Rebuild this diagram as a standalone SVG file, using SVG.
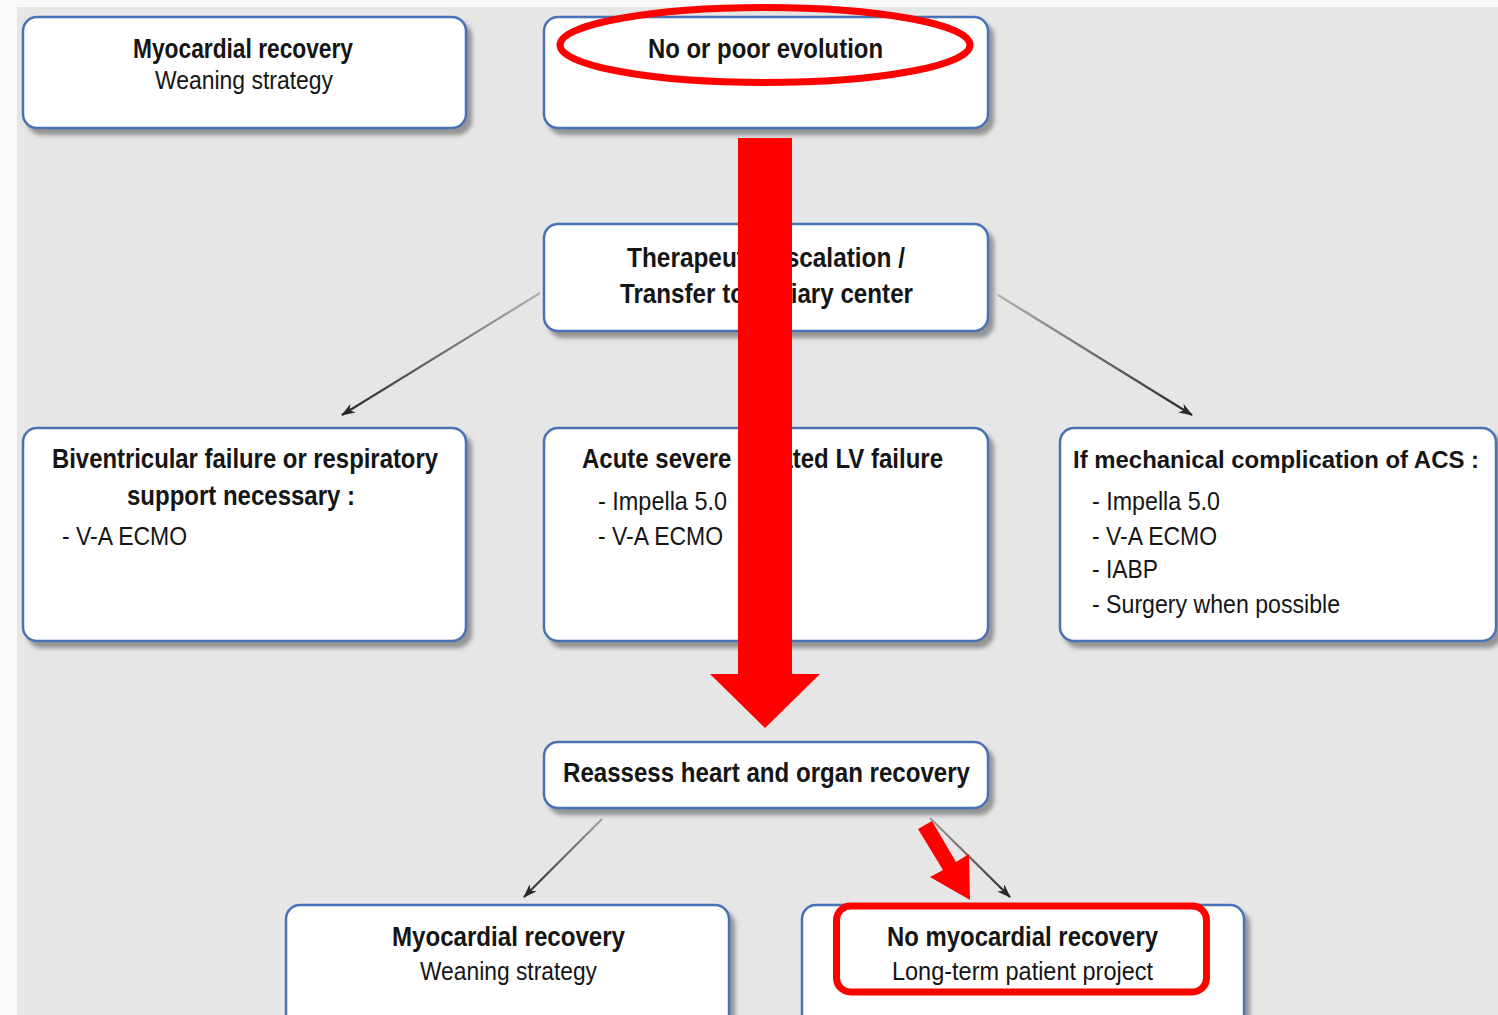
<svg xmlns="http://www.w3.org/2000/svg" width="1498" height="1015" viewBox="0 0 1498 1015">
<style>
.box{fill:#fff;stroke:#4a72b4;stroke-width:2.5;filter:url(#sh)}
.t{font-family:"Liberation Sans",Arial,sans-serif;font-size:27px;fill:#151515}
.b{font-weight:bold}
.r{font-size:26px}
.con{fill:none;stroke-width:2.2}
.red{fill:#ff0000}
.redline{fill:none;stroke:#ff0000;stroke-width:7}
</style>
<defs>
<filter id="sh" x="-5%" y="-10%" width="115%" height="130%">
<feDropShadow dx="5" dy="6" stdDeviation="2" flood-color="#7a7a7a" flood-opacity="0.75"/>
</filter>
<marker id="ah" viewBox="0 0 14 10" refX="13" refY="5" markerWidth="14" markerHeight="10" markerUnits="userSpaceOnUse" orient="auto">
<path d="M0,0 L14,5 L0,10 L4,5 z" fill="#2a2a2a"/>
</marker>
<linearGradient id="g1" gradientUnits="userSpaceOnUse" x1="540" y1="293" x2="342" y2="415"><stop offset="0" stop-color="#b0b0b0"/><stop offset="1" stop-color="#2a2a2a"/></linearGradient>
<linearGradient id="g2" gradientUnits="userSpaceOnUse" x1="998" y1="295" x2="1192" y2="415"><stop offset="0" stop-color="#b0b0b0"/><stop offset="1" stop-color="#2a2a2a"/></linearGradient>
<linearGradient id="g3" gradientUnits="userSpaceOnUse" x1="602" y1="819" x2="524" y2="897"><stop offset="0" stop-color="#a0a0a0"/><stop offset="1" stop-color="#2a2a2a"/></linearGradient>
<linearGradient id="g4" gradientUnits="userSpaceOnUse" x1="930" y1="818" x2="1010" y2="897"><stop offset="0" stop-color="#a0a0a0"/><stop offset="1" stop-color="#2a2a2a"/></linearGradient>
</defs>
<rect x="0" y="0" width="1498" height="1015" fill="#fafafa"/>
<rect x="17" y="7" width="1481" height="1008" fill="#e6e6e6"/>

<g id="connectors">
<line class="con" x1="540" y1="293" x2="342" y2="415" stroke="url(#g1)" marker-end="url(#ah)"/>
<line class="con" x1="998" y1="295" x2="1192" y2="415" stroke="url(#g2)" marker-end="url(#ah)"/>
<line class="con" x1="602" y1="819" x2="524" y2="897" stroke="url(#g3)" marker-end="url(#ah)"/>
<line class="con" x1="930" y1="818" x2="1010" y2="897" stroke="url(#g4)" marker-end="url(#ah)"/>
</g>

<g id="n1">
<rect class="box" x="23" y="17" width="443" height="111" rx="14"/>
<text class="t b" x="133" y="58" textLength="220" lengthAdjust="spacingAndGlyphs">Myocardial recovery</text>
<text class="t r" x="155" y="89" textLength="178" lengthAdjust="spacingAndGlyphs">Weaning strategy</text>
</g>

<g id="n2">
<rect class="box" x="544" y="17" width="444" height="111" rx="14"/>
<text class="t b" x="648" y="58" textLength="235" lengthAdjust="spacingAndGlyphs">No or poor evolution</text>
</g>

<g id="n3">
<rect class="box" x="544" y="224" width="444" height="107" rx="14"/>
<text class="t b" x="627" y="267" textLength="278" lengthAdjust="spacingAndGlyphs">Therapeutic escalation /</text>
<text class="t b" x="620" y="303" textLength="293" lengthAdjust="spacingAndGlyphs">Transfer to tertiary center</text>
</g>

<g id="n4">
<rect class="box" x="23" y="428" width="443" height="213" rx="14"/>
<text class="t b" x="52" y="468" textLength="386" lengthAdjust="spacingAndGlyphs">Biventricular failure or respiratory</text>
<text class="t b" x="127" y="505" textLength="228" lengthAdjust="spacingAndGlyphs">support necessary :</text>
<text class="t r" x="62" y="545" textLength="125" lengthAdjust="spacingAndGlyphs">- V-A ECMO</text>
</g>

<g id="n5">
<rect class="box" x="544" y="428" width="444" height="213" rx="14"/>
<text class="t b" x="582" y="468" textLength="361" lengthAdjust="spacingAndGlyphs">Acute severe isolated LV failure</text>
<text class="t r" x="598" y="510" textLength="129" lengthAdjust="spacingAndGlyphs">- Impella 5.0</text>
<text class="t r" x="598" y="545" textLength="125" lengthAdjust="spacingAndGlyphs">- V-A ECMO</text>
</g>

<g id="n6">
<rect class="box" x="1060" y="428" width="436" height="213" rx="14"/>
<text class="t b" x="1073" y="468" style="font-size:24px" textLength="406" lengthAdjust="spacingAndGlyphs">If mechanical complication of ACS :</text>
<text class="t r" x="1092" y="510" textLength="128" lengthAdjust="spacingAndGlyphs">- Impella 5.0</text>
<text class="t r" x="1092" y="545" textLength="125" lengthAdjust="spacingAndGlyphs">- V-A ECMO</text>
<text class="t r" x="1092" y="578" textLength="66" lengthAdjust="spacingAndGlyphs">- IABP</text>
<text class="t r" x="1092" y="613" textLength="248" lengthAdjust="spacingAndGlyphs">- Surgery when possible</text>
</g>

<g id="n7">
<rect class="box" x="544" y="742" width="444" height="66" rx="14"/>
<text class="t b" x="563" y="782" textLength="407" lengthAdjust="spacingAndGlyphs">Reassess heart and organ recovery</text>
</g>

<g id="n8">
<rect class="box" x="286" y="905" width="443" height="130" rx="14"/>
<text class="t b" x="392" y="946" textLength="233" lengthAdjust="spacingAndGlyphs">Myocardial recovery</text>
<text class="t r" x="420" y="980" textLength="177" lengthAdjust="spacingAndGlyphs">Weaning strategy</text>
</g>

<g id="n9">
<rect class="box" x="802" y="905" width="442" height="130" rx="14"/>
<text class="t b" x="887" y="946" textLength="271" lengthAdjust="spacingAndGlyphs">No myocardial recovery</text>
<text class="t r" x="892" y="980" textLength="261" lengthAdjust="spacingAndGlyphs">Long-term patient project</text>
</g>

<g id="highlights">
<ellipse class="redline" cx="765" cy="45" rx="205" ry="37.5"/>
<polygon class="red" points="738,138 792,138 792,674 820,674 765,728 710,674 738,674"/>
<polygon class="red" points="918,829 932,821 956,862 969,854 970,900 930,877 943,870"/>
<rect class="redline" x="836.5" y="906" width="370" height="86" rx="14"/>
</g>
</svg>
